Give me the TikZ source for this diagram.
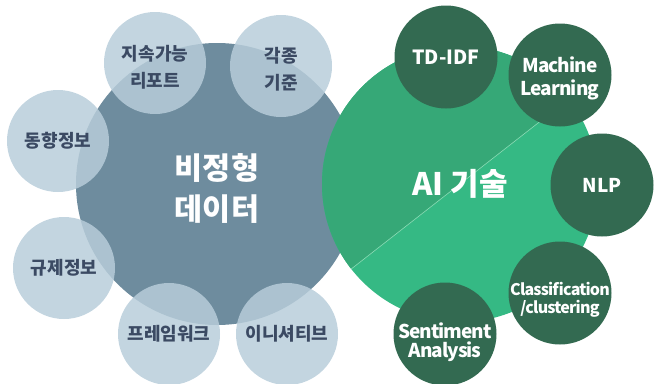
\documentclass[tikz,border=0pt]{standalone}
\usepackage{fontspec}
\setmainfont{Noto Sans CJK KR}
\newfontfamily\narrowfont{Noto Sans CJK KR}[LetterSpace=-5]
\definecolor{biggrey}{HTML}{6E8C9E}
\definecolor{smallgrey}{HTML}{B8CDDA}
\definecolor{greytext}{HTML}{3B4A63}
\definecolor{gdark}{HTML}{36A877}
\definecolor{glight}{HTML}{35B984}
\definecolor{gline}{HTML}{8ADBB5}
\definecolor{dgreen}{HTML}{336A51}
\tikzset{
  bigg/.style={circle, fill=biggrey, minimum size=282pt, inner sep=0pt},
  bigglbl/.style={text=white, align=center, inner sep=0pt, font=\bfseries\fontsize{30.5}{41}\selectfont},
  smallg/.style={circle, fill=smallgrey, fill opacity=0.84, minimum size=102pt, inner sep=0pt},
  smalllbl/.style={text=greytext, align=center, inner sep=0pt, font=\bfseries\fontsize{18}{27}\selectfont},
  bigai/.style={circle, fill=glight, minimum size=276pt, inner sep=0pt,
     path picture={
       \fill[gdark] (path picture bounding box.center) ++(-38:200) -- ++(-128:200) -- ++(142:400) -- ++(52:200) -- cycle;
       \draw[gline, line width=0.6pt] (path picture bounding box.center) ++(-38:150) -- ++(142:300);
     }},
  ailbl/.style={text=white, inner sep=0pt, font=\bfseries\fontsize{31}{36}\selectfont},
  dg/.style={circle, fill=dgreen, minimum size=103pt, inner sep=0pt},
  dglbl/.style={text=white, align=center, inner sep=0pt, font=\bfseries\fontsize{19}{23}\selectfont},
  dgnarrow/.style={text=white, align=center, inner sep=0pt, font=\narrowfont\bfseries\fontsize{19}{23}\selectfont},
}
\begin{document}
\begin{tikzpicture}[x=1pt,y=-1pt]
\useasboundingbox (0,0) rectangle (661,383);
\clip (0,0) rectangle (661,383);
\node[bigg] (data) at (217,184) {};
\node[bigglbl] (datat) at ([yshift=-4pt]data.center) {비정형\\데이터};
\node[smallg] (s1) at (155,63) {};
\node[smallg] (s2) at (281,66) {};
\node[smallg] (s3) at (58,141) {};
\node[smallg] (s4) at (64,268) {};
\node[smallg] (s5) at (169,334) {};
\node[smallg] (s6) at (287,334) {};
\node[smalllbl] (s1t) at ([yshift=-4pt]s1.center) {지속가능\\리포트};
\node[smalllbl] (s2t) at ([yshift=-3.5pt]s2.center) {각종\\기준};
\node[smalllbl] (s3t) at (s3.center) {동향정보};
\node[smalllbl] (s4t) at (s4.center) {규제정보};
\node[smalllbl] (s5t) at (s5.center) {프레임워크};
\node[smalllbl] (s6t) at (s6.center) {이니셔티브};
\node[bigai] (ai) at (460,184) {};
\node[ailbl] (ait) at (ai.center) {AI 기술};
\node[dg] (d1) at (446,57) {};
\node[dg] (d2) at (560,75) {};
\node[dg] (d3) at (602,185) {};
\node[dg] (d4) at (560,293) {};
\node[dg] (d5) at (445,334) {};
\node[dglbl, font=\bfseries\fontsize{19.5}{23}\selectfont] (d1t) at (d1.center) {TD-IDF};
\node[dgnarrow] (d2t) at ([yshift=-3pt]d2.center) {Machine\\Learning};
\node[dglbl] (d3t) at (d3.center) {NLP};
\node[dgnarrow, font=\narrowfont\bfseries\fontsize{16}{18}\selectfont] (d4t) at ([yshift=-7pt]d4.center) {Classification\\/clustering};
\node[dgnarrow, font=\narrowfont\bfseries\fontsize{19}{18.5}\selectfont] (d5t) at ([yshift=-8pt]d5.center) {Sentiment\\Analysis};
\end{tikzpicture}
\end{document}
